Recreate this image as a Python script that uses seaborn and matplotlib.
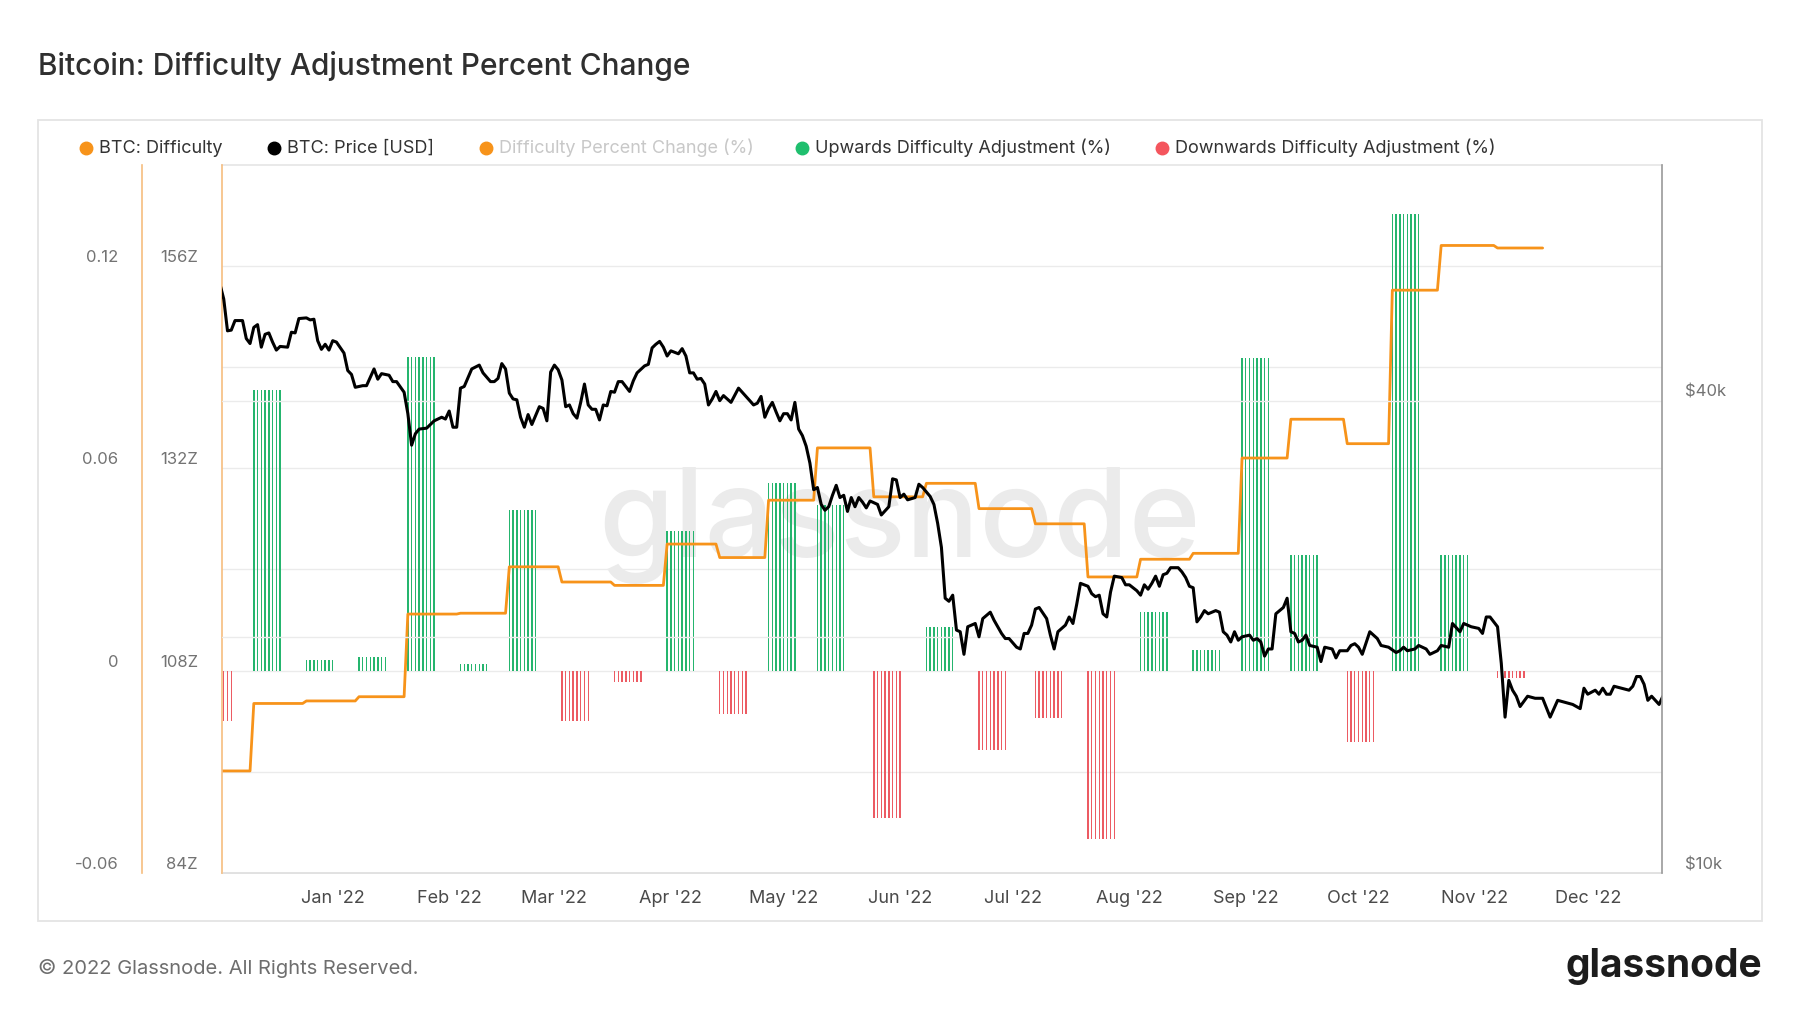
#!/usr/bin/env python3
import matplotlib
matplotlib.use("Agg")

import matplotlib.pyplot as plt
import matplotlib.transforms as mtransforms
import pandas as pd
import seaborn as sns

from matplotlib.patches import Rectangle
from matplotlib.ticker import NullLocator

ORIGIN = pd.Timestamp("2022-01-01")

# difficulty adjustments: first day on the new level, counted in days from 2022-01-01
adj_day = [-34, -21, -7, 7, 20, 34, 47, 61, 75, 89, 103, 116, 129,
           144, 158, 172, 187, 201, 215, 229, 242, 255, 270, 282, 295, 310]
adj_pct = [-0.0149, 0.0832, 0.0031, 0.0041, 0.0930, 0.0018, 0.0476, -0.0149,
           -0.0034, 0.0415, -0.0129, 0.0556, 0.0491, -0.0436, 0.0130, -0.0236,
           -0.0140, -0.0500, 0.0174, 0.0062, 0.0927, 0.0342, -0.0211, 0.1354,
           0.0342, -0.0021]
difficulty_z = [96.1, 104.1, 104.4, 104.9, 114.7, 114.8, 120.3, 118.5, 118.1,
                123.0, 121.4, 128.2, 134.4, 128.6, 130.2, 127.2, 125.4, 119.1,
                121.2, 121.9, 133.2, 137.8, 134.9, 153.1, 158.4, 158.1]
difficulty_last_day = 322
bar_days = 8

# BTC price (thousand USD)
price_day = [
    -30, -29, -28, -27, -26, -24, -23, -22, -21, -20, -19, -18, -17, -16, -15, -14,
    -12, -11, -10, -9, -7, -6, -5, -4, -3, -2, -1,
    0, 1, 3, 4, 5, 6, 8, 9, 11, 12, 13, 15, 16, 17, 19, 20, 21, 22, 23, 25, 27, 29, 30,
    31, 32, 33, 34, 35, 37, 39, 40, 42, 43, 44, 45, 46, 47, 48, 49, 50, 51, 52, 53, 54,
    55, 56, 57,
    58, 59, 60, 61, 62, 63, 64, 65, 66, 67, 68, 69, 70, 71, 72, 73, 74, 75, 76, 77, 79,
    80, 81, 83, 84, 85, 86, 87, 88,
    89, 90, 92, 93, 94, 95, 96, 97, 98, 99, 100, 101, 102, 103, 104, 106, 108, 109, 111,
    112, 113, 114, 115, 116, 117, 118,
    119, 120, 121, 122, 123, 124, 125, 126, 127, 128, 129, 130, 131, 132, 133, 134, 135,
    136, 137, 138, 139, 140, 141, 142, 143, 145, 146, 148, 149,
    150, 151, 152, 153, 155, 156, 157, 159, 160, 161, 162, 163, 164, 165, 166, 167, 168,
    169, 170, 171, 172, 173, 175, 176, 178, 179,
    180, 182, 183, 184, 185, 186, 187, 188, 190, 191, 192, 193, 195, 196, 197, 198, 199,
    201, 202, 203, 204, 205, 206, 207, 208, 210,
    211, 212, 214, 215, 216, 217, 218, 219, 220, 221, 222, 223, 225, 226, 227, 228, 229,
    230, 231, 232, 233, 235, 236, 237, 238, 239, 240, 241,
    242, 244, 245, 246, 247, 248, 249, 250, 251, 253, 254, 255, 256, 257, 258, 259, 260,
    262, 263, 264, 266, 267, 268, 270, 271,
    272, 273, 274, 276, 278, 279, 281, 283, 284, 285, 286, 288, 289, 291, 292, 294, 295,
    297, 298, 300, 301, 303,
    305, 306, 307, 308, 310, 311, 312, 313, 314, 315, 316, 318, 320, 322, 324, 326, 328,
    330, 332, 333, 334,
    336, 337, 338, 339, 340, 341, 343, 345, 346, 347, 348, 349, 350, 351, 353, 354,
]
price_k = [
    56.3, 53.9, 49.1, 49.2, 50.6, 50.6, 48.0, 47.3, 49.6, 50.0, 46.8, 48.6, 48.8, 47.5, 46.4, 46.9,
    46.8, 48.9, 48.8, 50.9, 51.0, 50.7, 50.8, 47.7, 46.5, 47.2, 46.4,
    47.7, 47.5, 46.0, 43.7, 43.2, 41.6, 41.8, 41.8, 43.9, 42.6, 43.3, 43.1, 42.3, 42.3, 41.0, 38.5,
    35.1, 36.3, 36.8, 36.9, 37.7, 38.1, 37.9,
    38.8, 37.0, 37.0, 41.5, 41.7, 43.9, 44.4, 43.4, 42.3, 42.3, 42.7, 44.6, 43.9, 40.9, 40.2, 40.1,
    38.1, 37.0, 38.4, 37.3, 38.3, 39.3, 39.1, 37.7,
    43.5, 44.4, 43.8, 42.5, 39.3, 39.5, 38.5, 38.0, 39.8, 42.0, 39.5, 39.0, 39.0, 37.8, 39.5, 39.4,
    41.1, 41.0, 42.3, 42.3, 41.1, 42.4, 43.4, 44.3, 44.5, 46.7, 47.2, 47.6, 46.8,
    45.6, 46.3, 45.9, 46.6, 45.6, 43.4, 43.4, 42.6, 42.7, 42.0, 39.5, 40.2, 41.1, 40.0, 40.6, 39.8,
    41.5, 41.0, 40.0, 39.5, 39.7, 40.5, 38.1, 39.1, 39.8, 38.7,
    37.7, 38.5, 38.5, 37.8, 39.8, 36.8, 36.1, 35.0, 33.3, 30.8, 31.0, 29.5, 29.0, 29.3, 30.3, 31.2,
    30.1, 30.3, 28.9, 30.1, 29.3, 30.1, 29.7, 29.2, 29.8, 29.5, 28.6, 29.3, 31.8,
    31.7, 30.1, 30.4, 29.9, 30.1, 31.3, 31.0, 30.2, 29.5, 27.9, 26.0, 22.4, 22.2, 22.6, 20.4, 20.3,
    19.0, 20.6, 20.7, 20.8, 20.0, 21.1, 21.5, 21.0, 20.2, 19.9,
    19.9, 19.4, 19.3, 20.2, 20.2, 20.7, 21.7, 21.8, 21.1, 20.1, 19.3, 20.3, 20.7, 21.2, 20.8, 22.0,
    23.4, 23.2, 22.7, 22.5, 22.6, 21.4, 21.2, 22.8, 23.9, 23.8,
    23.3, 23.3, 22.9, 22.6, 23.3, 23.0, 23.4, 23.9, 23.2, 24.0, 24.1, 24.5, 24.5, 24.2, 23.8, 23.2,
    23.1, 20.9, 21.2, 21.6, 21.4, 21.6, 21.5, 20.3, 20.1, 19.7, 20.3, 19.8,
    20.0, 20.1, 19.8, 19.9, 19.7, 18.9, 19.3, 19.3, 21.4, 21.8, 22.4, 20.3, 20.2, 19.7, 19.8, 20.1,
    19.5, 19.4, 18.6, 19.4, 19.3, 18.8, 19.2, 19.2, 19.5,
    19.6, 19.4, 19.0, 20.3, 19.9, 19.5, 19.4, 19.1, 19.2, 19.4, 19.2, 19.3, 19.5, 19.3, 19.0, 19.2,
    19.5, 19.4, 20.8, 20.3, 20.8, 20.6,
    20.5, 20.2, 21.2, 21.2, 20.6, 18.5, 15.8, 17.6, 17.1, 16.8, 16.3, 16.8, 16.7, 16.7, 15.8, 16.6,
    16.5, 16.4, 16.2, 17.2, 16.9,
    17.1, 16.9, 17.2, 16.9, 16.9, 17.3, 17.2, 17.1, 17.3, 17.8, 17.8, 17.4, 16.6, 16.8, 16.4, 16.8,
]

x_start = pd.Timestamp("2021-12-02 10:20")
x_end = pd.Timestamp("2022-12-20 21:00")
month_ticks = pd.date_range("2022-01-01", "2022-12-01", freq="MS")

pct_ticks = [-0.06, -0.03, 0.0, 0.03, 0.06, 0.09, 0.12]
pct_labels = ["-0.06", "", "0", "", "0.06", "", "0.12"]
diff_ticks = [84, 108, 132, 156]
diff_labels = ["84Z", "108Z", "132Z", "156Z"]
price_ticks = [10000, 20000, 40000]
price_labels = ["$10k", "", "$40k"]

legend_labels = [
    "BTC: Difficulty",
    "BTC: Price [USD]",
    "Difficulty Percent Change (%)",
    "Upwards Difficulty Adjustment (%)",
    "Downwards Difficulty Adjustment (%)",
]

ORANGE = "#f7931a"
GREEN = "#25b56e"
RED = "#ec5b63"
SPINE_ORANGE = "#f6bd7f"
GRID = "#ebebeb"


def build_bars() -> pd.DataFrame:
    rows = []
    for day, pct in zip(adj_day, adj_pct):
        for k in range(bar_days):
            rows.append({"date": ORIGIN + pd.Timedelta(days=day + k), "pct": pct})
    return pd.DataFrame(rows)


def build_difficulty() -> pd.DataFrame:
    ends = adj_day[1:] + [difficulty_last_day + 1]
    rows = []
    for start, end, level in zip(adj_day, ends, difficulty_z):
        rows.append({"date": ORIGIN + pd.Timedelta(days=start), "z": level})
        rows.append({"date": ORIGIN + pd.Timedelta(days=end - 1), "z": level})
    return pd.DataFrame(rows)


def build_price() -> pd.DataFrame:
    assert len(price_day) == len(price_k)
    return pd.DataFrame({
        "date": ORIGIN + pd.to_timedelta(price_day, unit="D"),
        "usd": [p * 1000 for p in price_k],
    })


def decorate(fig):
    deco = fig.add_axes([0, 0, 1, 1], zorder=-1)
    deco.axis("off")

    deco.add_patch(Rectangle((38, 120), 1724, 801, fill=False,
                             edgecolor="#e4e4e4", linewidth=1.3))
    deco.text(38, 66, "Bitcoin: Difficulty Adjustment Percent Change",
              fontsize=21.5, fontweight="medium", color="#2f2f2f", va="center")

    # legend row
    dots = [ORANGE, "black", ORANGE, "#1fbf6e", "#f4555d"]
    text_colors = ["#333333", "#333333", "#c8c8c8", "#333333", "#333333"]
    xs = [86, 274, 486, 802, 1162]
    for label, dot, tcol, x in zip(legend_labels, dots, text_colors, xs):
        deco.plot([x], [148], marker="o", markersize=9, color=dot, linestyle="none")
        deco.text(x + 13, 148, label, fontsize=13, color=tcol, va="center")

    deco.text(900, 525, "glassnode", fontsize=88, color="#ebebeb",
              ha="center", va="center", fontweight="medium")

    deco.text(38, 968, "\u00a9 2022 Glassnode. All Rights Reserved.",
              fontsize=14.5, color="#6e6e6e", va="center")
    deco.text(1762, 966, "glassnode", fontsize=28, fontweight="bold",
              color="#1c1c1c", ha="right", va="center")

    deco.set_xlim(0, 1800)
    deco.set_ylim(1013, 0)


def plot_chart(output):
    bars = build_bars()
    difficulty = build_difficulty()
    price = build_price()

    fig = plt.figure(figsize=(18, 10.13), dpi=100)
    fig.patch.set_facecolor("white")
    decorate(fig)

    ax = fig.add_axes([221.6 / 1800, 140 / 1013, 1440.8 / 1800, 708.5 / 1013])
    ax.set_facecolor("none")
    ax_diff = ax.twinx()
    ax_price = ax.twinx()

    up = bars[bars["pct"] > 0]
    down = bars[bars["pct"] < 0]
    ax.bar(up["date"], up["pct"], width=0.38, color=GREEN, linewidth=0)
    ax.bar(down["date"], down["pct"], width=0.38, color=RED, linewidth=0)

    sns.lineplot(data=difficulty, x="date", y="z", ax=ax_diff, color=ORANGE,
                 linewidth=2.0, estimator=None)

    ax_price.set_yscale("log")
    sns.lineplot(data=price, x="date", y="usd", ax=ax_price, color="black",
                 linewidth=2.2, estimator=None)

    # percent axis (outer left)
    ax.set_ylim(-0.06, 0.15)
    ax.set_yticks(pct_ticks)
    ax.set_yticklabels(pct_labels)
    ax.grid(axis="y", color=GRID, linewidth=1)
    ax.grid(axis="x", visible=False)
    ax.set_axisbelow(True)
    ax.spines["left"].set_position(("outward", 57.5))
    ax.spines["left"].set_color(SPINE_ORANGE)
    ax.spines["left"].set_linewidth(1.2)
    ax.spines["top"].set_color("#e6e6e6")
    ax.spines["bottom"].set_color("#dddddd")
    ax.spines["right"].set_visible(False)
    ax.tick_params(axis="y", length=0, pad=17, labelsize=12, labelcolor="#737373")

    # difficulty axis (inner left)
    ax_diff.set_ylim(84, 168)
    ax_diff.set_yticks(diff_ticks)
    ax_diff.set_yticklabels(diff_labels)
    ax_diff.yaxis.set_ticks_position("left")
    ax_diff.yaxis.set_label_position("left")
    for side in ["top", "right", "bottom"]:
        ax_diff.spines[side].set_visible(False)
    ax_diff.spines["left"].set_color(SPINE_ORANGE)
    ax_diff.spines["left"].set_linewidth(1.2)
    ax_diff.tick_params(axis="y", length=0, pad=17, labelsize=12, labelcolor="#737373")
    ax_diff.grid(False)

    # price axis (right, log)
    ax_price.set_ylim(10000, 80000)
    ax_price.set_yticks(price_ticks)
    ax_price.set_yticklabels(price_labels)
    ax_price.yaxis.set_minor_locator(NullLocator())
    ax_price.grid(axis="y", which="major", color=GRID, linewidth=1)
    ax_price.grid(axis="x", visible=False)
    for side in ["top", "left", "bottom"]:
        ax_price.spines[side].set_visible(False)
    ax_price.spines["right"].set_color("#9a9a9a")
    ax_price.spines["right"].set_linewidth(1.2)
    ax_price.tick_params(axis="y", which="both", length=0, pad=16.5, labelsize=12,
                         labelcolor="#737373")

    for a in (ax, ax_diff, ax_price):
        a.set_xlabel("")
        a.set_ylabel("")

    ax.set_xlim(x_start, x_end)
    ax.set_xticks(month_ticks)
    ax.set_xticklabels([d.strftime("%b '%y") for d in month_ticks])
    ax.tick_params(axis="x", length=10, width=1, color="#eeeeee", pad=2,
                   labelsize=13, labelcolor="#4a4a4a")

    # glassnode puts the y labels just above their grid line
    shift = mtransforms.ScaledTranslation(0, 0.1, fig.dpi_scale_trans)
    for a in (ax, ax_diff, ax_price):
        for label in a.get_yticklabels():
            label.set_transform(label.get_transform() + shift)

    fig.savefig(output, dpi=100, facecolor="white")


def main():
    sns.set_theme(style="white")
    plt.rcParams["font.family"] = ["Inter", "DejaVu Sans"]
    plot_chart("out.png")


if __name__ == "__main__":
    main()
